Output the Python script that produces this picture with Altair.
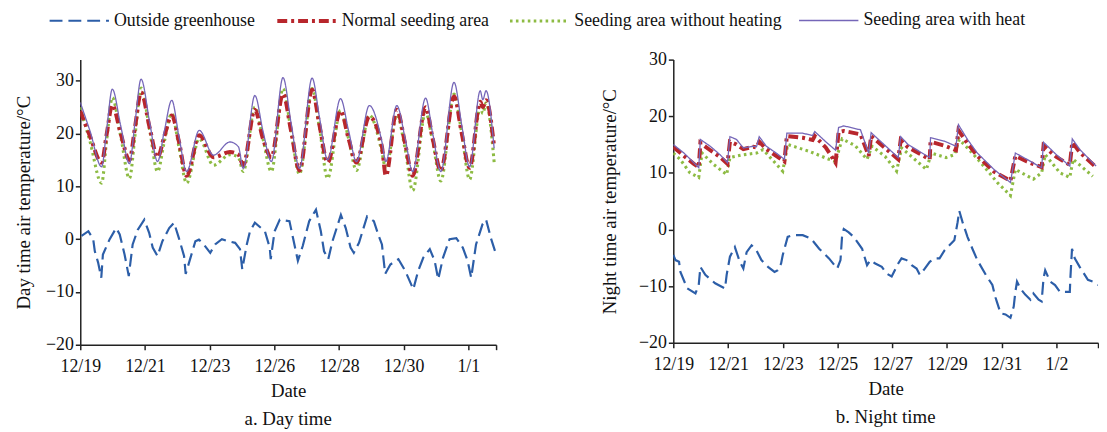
import altair as alt
import pandas as pd

# ---------------- series ----------------
legend_order = ["Outside greenhouse", "Normal seeding area",
                "Seeding area without heating", "Seeding area with heat"]
# common scale domain (thinnest -> thickest stroke)
scale_domain = ["Seeding area with heat", "Outside greenhouse",
                "Seeding area without heating", "Normal seeding area"]
style_color = {"Outside greenhouse": "#2c5ea8", "Normal seeding area": "#b8262c",
               "Seeding area without heating": "#8dbb43", "Seeding area with heat": "#7566b8"}
style_dash = {"Outside greenhouse": [13, 6], "Normal seeding area": [10, 4, 3, 4],
              "Seeding area without heating": [2.6, 3.4], "Seeding area with heat": [1, 0]}
width_range = [1.3, 4.0]
draw_order = ["Outside greenhouse", "Seeding area without heating",
              "Normal seeding area", "Seeding area with heat"]

# ---------------- day time (x in tick units: 2 units per labelled tick) ----------------
day_tick_labels = ["12/19", "12/21", "12/23", "12/26", "12/28", "12/30", "1/1"]
day_x_end = 12.86

day_x_out = [0.04, 0.25, 0.40, 0.45, 0.55, 0.65, 0.70, 0.91, 1.11, 1.22, 1.37, 1.50, 1.62, 1.78,
             1.98, 2.13, 2.24, 2.39, 2.54, 2.75, 2.90, 3.05, 3.21, 3.26, 3.41, 3.56, 3.67, 3.82,
             4.02, 4.17, 4.38, 4.58, 4.79, 4.94, 5.01, 5.15, 5.25, 5.40, 5.71, 5.86, 5.89, 6.01,
             6.17, 6.47, 6.58, 6.73, 6.88, 7.08, 7.29, 7.44, 7.54, 7.67, 7.80, 8.06, 8.21, 8.36,
             8.46, 8.62, 8.87, 9.08, 9.23, 9.33, 9.43, 9.59, 9.84, 10.05, 10.30, 10.45, 10.61,
             10.81, 10.96, 11.07, 11.22, 11.42, 11.63, 11.83, 11.98, 12.09, 12.24, 12.44, 12.55,
             12.70, 12.83]
day_outside = [0.6, 1.5, 0.0, -2.3, -4.4, -7.3, -2.9, 0.0, 2.1, 0.9, -2.9, -7.0, -1.0, 1.8,
               3.7, 1.2, -1.6, -3.2, -0.4, 2.1, 3.1, 0.2, -3.2, -6.6, -3.5, -0.4, -0.1, -1.0,
               -2.6, -1.0, 0.0, -0.4, -0.7, -1.9, -5.7, -1.0, 1.5, 3.1, 1.5, -1.6, -3.8, 1.5,
               3.7, 3.4, 0.2, -4.1, -1.3, 3.4, 5.6, 1.5, -2.3, -3.8, -0.4, 4.6, 2.1, -1.6,
               -2.6, -0.7, 4.3, 3.4, 0.6, -1.0, -6.6, -4.8, -3.8, -6.0, -9.5, -6.0, -3.5,
               -1.9, -4.1, -7.6, -3.5, 0.0, 0.2, -1.6, -4.1, -7.3, -1.0, 2.8, 3.7,
               0.2, -2.3]

day_x_in = [0.00, 0.30, 0.66, 0.82, 0.99, 1.25, 1.52, 1.70, 1.88, 2.15, 2.39, 2.60, 2.83, 3.05,
            3.29, 3.68, 4.12, 4.63, 4.89, 5.04, 5.40, 5.65, 5.91, 6.27, 6.52, 6.78, 7.17, 7.40,
            7.65, 8.05, 8.30, 8.54, 8.94, 9.33, 9.45, 9.79, 10.05, 10.28, 10.68, 10.90, 11.15,
            11.56, 11.80, 12.04, 12.37, 12.45, 12.55, 12.80]
day_heat = [25.9, 20.5, 13.7, 21.0, 28.4, 21.5, 14.3, 22.5, 30.3, 22.0, 14.7, 20.5, 26.3, 19.5,
            12.8, 20.6, 15.9, 18.4, 17.5, 13.4, 27.2, 20.5, 14.7, 30.6, 22.0, 13.4, 30.5, 23.0,
            15.0, 26.6, 20.5, 14.7, 25.3, 18.4, 14.7, 25.3, 19.0, 12.8, 26.7, 20.0, 12.8,
            29.7, 21.5, 13.7, 28.1, 26.4, 28.1, 17.2]
day_normal = [24.3, 19.5, 14.5, 20.0, 25.4, 20.0, 15.0, 21.5, 27.8, 21.0, 15.5, 19.5, 23.4, 18.5,
              12.0, 19.7, 15.5, 16.5, 16.0, 14.0, 24.5, 19.0, 15.5, 27.5, 20.5, 13.0, 28.3, 21.5,
              14.5, 24.3, 19.0, 14.5, 23.2, 17.5, 12.0, 24.5, 18.0, 12.0, 25.0, 19.0, 13.0,
              27.0, 20.0, 13.5, 26.0, 25.0, 26.3, 17.5]
day_noheat = [25.0, 18.5, 10.6, 19.0, 26.8, 19.5, 11.5, 20.0, 28.6, 20.5, 12.8, 18.5, 23.8, 17.5,
              10.6, 19.0, 14.0, 16.0, 15.5, 12.8, 25.0, 19.0, 12.8, 28.5, 20.5, 12.3, 28.5, 21.0,
              11.5, 24.4, 19.0, 13.0, 23.5, 16.5, 13.2, 23.5, 17.0, 9.2, 24.0, 18.5, 11.0,
              27.5, 20.0, 11.3, 25.0, 23.8, 25.8, 14.6]

# ---------------- night time (x in days since 12/19) ----------------
night_tick_labels = ["12/19", "12/21", "12/23", "12/25", "12/27", "12/29", "12/31", "1/2"]
night_x_end = 15.52

night_x_out = [0.00, 0.08, 0.21, 0.26, 0.51, 0.81, 0.93, 0.99, 1.17, 1.53, 1.77, 1.89, 1.95, 2.07,
               2.25, 2.43, 2.56, 2.68, 2.86, 3.04, 3.22, 3.46, 3.70, 3.82, 3.94, 4.00, 4.18, 4.37,
               4.73, 5.03, 5.33, 5.69, 5.99, 6.11, 6.17, 6.23, 6.41, 6.59, 6.90, 7.08, 7.20, 7.38,
               7.62, 7.80, 7.98, 8.22, 8.34, 8.52, 8.71, 8.89, 9.01, 9.19, 9.37, 9.55, 9.73, 9.91,
               10.09, 10.27, 10.39, 10.45, 10.57, 10.75, 10.93, 11.11, 11.42, 11.66, 11.78, 11.84,
               11.96, 12.14, 12.32, 12.44, 12.50, 12.56, 12.68, 12.86, 13.05, 13.16, 13.35, 13.46,
               13.53, 13.59, 13.77, 13.95, 14.13, 14.37, 14.49, 14.51, 14.57, 14.67, 14.85, 14.97,
               15.15, 15.33, 15.52]
night_outside = [-4.5, -5.4, -5.7, -7.5, -10.4, -11.3, -9.8, -6.6, -8.0, -9.5, -10.1, -10.4, -8.0,
                 -4.8, -3.1, -5.7, -6.9, -4.0, -2.8, -3.7, -5.4, -6.6, -7.5, -7.2, -6.0, -4.5,
                 -1.3, -1.0, -1.0, -1.6, -3.4, -5.1, -6.9, -5.4, -1.0, 0.1, -0.5, -1.3, -3.4,
                 -6.3, -5.4, -6.0, -6.6, -7.8, -8.3, -6.0, -5.1, -5.4, -6.3, -6.9, -8.0, -6.9,
                 -5.7, -5.1, -5.1, -3.7, -2.8, -1.9, 1.3, 3.3, 1.3, -1.3, -3.4, -5.4, -8.0, -9.8,
                 -12.1, -13.0, -14.8, -15.0, -15.6, -13.6, -11.0, -9.2, -10.4, -11.5, -12.4,
                 -11.3, -12.4, -12.7, -8.6, -7.2, -9.2, -9.8, -11.0, -11.0, -11.0, -8.6, -3.4,
                 -5.1, -6.6, -7.5, -8.9, -9.2, -9.8]

night_x_in = [0.00, 0.39, 0.75, 0.93, 0.99, 1.35, 1.71, 1.98, 2.07, 2.31, 2.56, 2.92, 3.04, 3.14,
              3.40, 3.76, 4.06, 4.15, 4.73, 5.09, 5.17, 5.57, 5.93, 6.04, 6.23, 6.84, 7.14, 7.23,
              8.22, 8.31, 8.58, 9.37, 9.40, 9.91, 10.33, 10.42, 10.75, 11.11, 11.72, 12.32, 12.50,
              12.92, 13.46, 13.53, 14.00, 14.49, 14.58, 14.86, 15.45]
night_heat = [15.0, 13.5, 11.8, 10.9, 15.9, 14.7, 13.2, 11.8, 16.4, 15.9, 14.4, 14.7, 14.6,
              16.4, 14.7, 13.5, 12.4, 17.0, 17.0, 16.6, 17.3, 15.5, 14.0, 18.0, 18.3, 17.6, 13.5,
              17.1, 12.7, 16.4, 15.0, 12.7, 16.2, 15.6, 14.7, 18.5, 15.9, 13.5, 10.6, 8.3,
              13.5, 12.4, 10.9, 15.4, 13.2, 11.2, 16.0, 14.1, 11.2]
night_normal = [14.6, 13.0, 11.6, 11.0, 15.3, 14.0, 12.8, 11.6, 15.5, 15.0, 14.2, 14.6, 14.5,
                15.5, 14.2, 13.0, 12.0, 16.5, 16.2, 15.8, 16.5, 14.5, 11.8, 17.2, 17.4, 16.8, 13.0,
                16.5, 12.4, 15.8, 14.5, 12.4, 15.5, 14.8, 14.0, 17.5, 15.2, 13.0, 10.2, 8.6,
                13.0, 12.0, 11.0, 14.8, 12.8, 11.4, 15.4, 13.6, 11.0]

night_x_noheat = [0.00, 0.25, 0.61, 0.93, 1.05, 1.47, 1.95, 2.07, 2.56, 3.04, 3.28, 4.00, 4.18,
                  4.97, 5.69, 5.93, 6.17, 6.65, 7.08, 7.26, 7.74, 8.16, 8.34, 8.82, 9.25, 9.43,
                  9.97, 10.27, 10.45, 10.81, 11.24, 11.84, 12.32, 12.50, 13.16, 13.46, 13.59,
                  14.13, 14.49, 14.61, 15.33]
night_noheat = [13.5, 12.4, 10.0, 9.2, 13.5, 11.5, 9.7, 12.7, 13.2, 13.5, 14.1, 10.3, 15.0,
                13.8, 12.4, 12.0, 16.0, 14.8, 12.4, 14.7, 12.9, 10.3, 14.4, 12.4, 10.6, 13.5,
                12.7, 13.2, 15.9, 14.1, 11.8, 8.3, 6.0, 10.6, 8.9, 10.0, 13.2, 10.0, 9.2,
                12.4, 9.4]

y_ticks = [-20, -10, 0, 10, 20, 30]

SERIF = "Liberation Serif"


def long_frame(parts):
    rows = []
    for name, xs, vs in parts:
        for i, (x, v) in enumerate(zip(xs, vs)):
            rows.append({"series": name, "x": x, "v": v, "i": i})
    return pd.DataFrame(rows)


day_df = long_frame([
    ("Outside greenhouse", day_x_out, day_outside),
    ("Normal seeding area", day_x_in, day_normal),
    ("Seeding area without heating", day_x_in, day_noheat),
    ("Seeding area with heat", day_x_in, day_heat),
])
night_df = long_frame([
    ("Outside greenhouse", night_x_out, night_outside),
    ("Normal seeding area", night_x_in, night_normal),
    ("Seeding area without heating", night_x_noheat, night_noheat),
    ("Seeding area with heat", night_x_in, night_heat),
])

legend = alt.Legend(
    title=None, orient="none", legendX=-12, legendY=-50, direction="horizontal",
    columns=4, values=legend_order, symbolType="M-3.33,0H3.33", symbolSize=324,
    columnPadding=14, labelOffset=24,
    labelFont=SERIF, labelFontSize=18, labelColor="#111", labelLimit=400,
)

color_scale = alt.Scale(domain=scale_domain, range=[style_color[s] for s in scale_domain])
dash_scale = alt.Scale(domain=scale_domain, range=[style_dash[s] for s in scale_domain])
width_scale = alt.Scale(type="point", padding=0, domain=scale_domain, range=width_range)


def panel(df, x_end, tick_labels, y_dom, y_title, y_title_pad, caption, w, h, smooth):
    label_js = "[" + ",".join("'" + s + "'" for s in tick_labels) + "]"
    x_vals = [2 * k for k in range(len(tick_labels))] + [x_end]
    x_enc = alt.X("x:Q", scale=alt.Scale(domain=[0, x_end], nice=False, zero=False),
                  axis=alt.Axis(values=x_vals, labelExpr=label_js + "[datum.value/2] || ''",
                                labelFlush=False, labelOverlap=False, labelPadding=8,
                                title="Date", titlePadding=6))
    y_enc = alt.Y("v:Q", scale=alt.Scale(domain=y_dom, nice=False, zero=False),
                  axis=alt.Axis(values=y_ticks, title=y_title, titlePadding=y_title_pad,
                                labelFlush=False))
    enc = dict(
        x=x_enc, y=y_enc, order="i:Q",
        color=alt.Color("series:N", scale=color_scale, legend=legend),
        strokeDash=alt.StrokeDash("series:N", scale=dash_scale, legend=legend),
        strokeWidth=alt.StrokeWidth("series:N", scale=width_scale, legend=legend),
    )
    layers = []
    for name in draw_order:
        interp = "monotone" if (smooth and name != "Outside greenhouse") else "linear"
        layers.append(
            alt.Chart(df).transform_filter(alt.datum.series == name)
            .mark_line(interpolate=interp, clip=True)
            .encode(**enc)
        )
    return alt.layer(*layers).properties(
        width=w, height=h,
        title=alt.TitleParams(caption, orient="bottom", anchor="middle", font=SERIF,
                              fontSize=19, fontWeight="normal", color="#111", offset=10),
    )


left = panel(day_df, day_x_end, day_tick_labels, [-20, 34],
             "Day time air temperature/°C", 12, "a. Day time", 420, 288, True)
right = panel(night_df, night_x_end, night_tick_labels, [-20, 30],
              "Night time air temperature/°C", 19, "b. Night time", 429, 286, False)

chart = (
    alt.hconcat(left, right, spacing=179, bounds="flush")
    .resolve_scale(x="independent", y="independent")
    .properties(padding={"left": 6, "top": 0, "right": 0, "bottom": 0})
    .configure_view(stroke=None)
    .configure_axis(
        grid=False, domainColor="#222", domainWidth=1.5, tickColor="#222", tickWidth=1.5,
        tickSize=5, labelPadding=2, labelFont=SERIF, labelFontSize=18, labelColor="#111",
        titleFont=SERIF, titleFontSize=19, titleFontWeight="normal", titleColor="#111",
    )
)

chart.save("out.html", embed_options={"renderer": "svg", "actions": False})
